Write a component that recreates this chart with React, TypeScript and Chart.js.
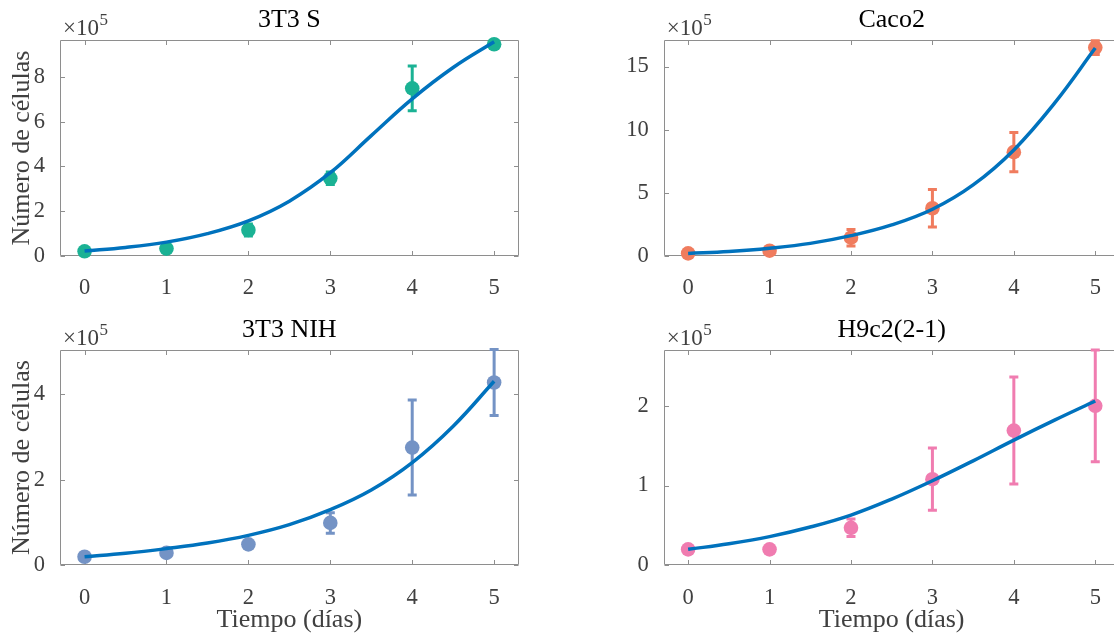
import React, { useEffect, useRef } from "react";
import { Chart, registerables } from "chart.js";

Chart.register(...registerables);

// ---------- data (cell counts in units of 1e5) ----------
const dias = [0, 1, 2, 3, 4, 5];
const diasCurva = [0, 0.5, 1, 1.5, 2, 2.5, 3, 3.5, 4, 4.5, 5];
const xTicks = [0, 1, 2, 3, 4, 5];

const titulos = ["3T3 S", "Caco2", "3T3 NIH", "H9c2(2-1)"];
const etiquetaY = "Número de células";
const etiquetaX = "Tiempo (días)";

const media3T3S = [0.21, 0.33, 1.16, 3.47, 7.49, 9.46];
const error3T3S = [0, 0, 0.27, 0.28, 1.0, 0];
const ajuste3T3S = [0.22, 0.38, 0.62, 1.0, 1.57, 2.45, 3.72, 5.38, 7.02, 8.42, 9.57];
const yTicks3T3S = [0, 2, 4, 6, 8];

const mediaCaco2 = [0.21, 0.42, 1.45, 3.78, 8.22, 16.5];
const errorCaco2 = [0, 0, 0.65, 1.48, 1.56, 0.55];
const ajusteCaco2 = [0.2, 0.36, 0.62, 1.0, 1.61, 2.46, 3.7, 5.63, 8.4, 12.1, 16.46];
const yTicksCaco2 = [0, 5, 10, 15];

const media3T3NIH = [0.2, 0.29, 0.49, 0.99, 2.75, 4.27];
const error3T3NIH = [0, 0, 0, 0.24, 1.11, 0.77];
const ajuste3T3NIH = [0.2, 0.28, 0.39, 0.52, 0.7, 0.95, 1.3, 1.76, 2.4, 3.25, 4.3];
const yTicks3T3NIH = [0, 2, 4];

const mediaH9c2 = [0.2, 0.2, 0.47, 1.08, 1.69, 2.0];
const errorH9c2 = [0, 0, 0.11, 0.39, 0.67, 0.7];
const ajusteH9c2 = [0.2, 0.27, 0.36, 0.48, 0.63, 0.83, 1.06, 1.31, 1.57, 1.82, 2.06];
const yTicksH9c2 = [0, 1, 2];

const yMaximos = [9.65, 17.1, 5.03, 2.7];

// ---------- styles ----------
const FONT = '"Liberation Serif", "Times New Roman", serif';
const COLOR_AJUSTE = "#0072BD";
const COLOR_TEXTO = "#404040";
const COLOR_MARCO = "#8e8e8e";
const coloresPuntos = ["#1BB294", "#F07C5E", "#7493C5", "#F07CB0"];

const marcoPlugin = {
  id: "marco",
  beforeDatasetsDraw(chart: any) {
    const { ctx, chartArea: a, scales } = chart;
    const x = scales.x, y = scales.y;
    const L = Math.round(a.left) + 0.5, R = Math.round(a.right) - 0.5;
    const T = Math.round(a.top) + 0.5, B = Math.round(a.bottom) - 0.5;
    ctx.save();
    ctx.strokeStyle = COLOR_MARCO;
    ctx.lineWidth = 1;
    ctx.beginPath();
    ctx.rect(L, T, R - L, B - T);
    const tl = 4.5;
    x.ticks.forEach((t: any) => {
      const px = Math.round(x.getPixelForValue(t.value)) + 0.5;
      ctx.moveTo(px, B); ctx.lineTo(px, B - tl);
      ctx.moveTo(px, T); ctx.lineTo(px, T + tl);
    });
    y.ticks.forEach((t: any) => {
      const py = Math.round(y.getPixelForValue(t.value)) + 0.5;
      ctx.moveTo(L, py); ctx.lineTo(L + tl, py);
      ctx.moveTo(R, py); ctx.lineTo(R - tl, py);
    });
    ctx.stroke();
    ctx.restore();
  },
};

const barrasPlugin = {
  id: "barras",
  beforeDatasetsDraw(chart: any, _args: any, opts: any) {
    if (!opts || !opts.media) return;
    const { ctx, scales } = chart;
    const x = scales.x, y = scales.y;
    ctx.save();
    ctx.strokeStyle = opts.color;
    ctx.lineWidth = 3;
    ctx.lineCap = "butt";
    opts.dias.forEach((d: number, i: number) => {
      const e = opts.error[i];
      if (!e) return;
      const px = x.getPixelForValue(d);
      const top = y.getPixelForValue(opts.media[i] + e);
      const bot = y.getPixelForValue(opts.media[i] - e);
      ctx.beginPath();
      ctx.moveTo(px, top); ctx.lineTo(px, bot);
      ctx.moveTo(px - 4.5, top); ctx.lineTo(px + 4.5, top);
      ctx.moveTo(px - 4.5, bot); ctx.lineTo(px + 4.5, bot);
      ctx.stroke();
    });
    ctx.restore();
  },
};

const exponentePlugin = {
  id: "exponente",
  afterDraw(chart: any) {
    const { ctx, chartArea: a } = chart;
    ctx.save();
    ctx.fillStyle = COLOR_TEXTO;
    ctx.textBaseline = "alphabetic";
    ctx.textAlign = "left";
    ctx.font = `23px ${FONT}`;
    const base = "×10";
    ctx.fillText(base, a.left + 3, a.top - 5.5);
    const w = ctx.measureText(base).width;
    ctx.font = `17px ${FONT}`;
    ctx.fillText("5", a.left + 3 + w + 0.5, a.top - 15.5);
    ctx.restore();
  },
};

type Panel = {
  titulo: string;
  media: number[];
  error: number[];
  ajuste: number[];
  yTicks: number[];
  yMax: number;
  color: string;
  left: number;
  top: number;
  w: number;
  h: number;
  yWidth: number;
  xHeight: number;
  padRight: number;
  titlePad: { top: number; bottom: number };
  yTitle: boolean;
  xTitle: boolean;
};

const paneles: Panel[] = [
  {
    titulo: titulos[0], media: media3T3S, error: error3T3S, ajuste: ajuste3T3S,
    yTicks: yTicks3T3S, yMax: yMaximos[0], color: coloresPuntos[0],
    left: 0, top: 0, w: 557, h: 300, yWidth: 60, xHeight: 44, padRight: 38.3,
    titlePad: { top: 5, bottom: 3.8 }, yTitle: true, xTitle: false,
  },
  {
    titulo: titulos[1], media: mediaCaco2, error: errorCaco2, ajuste: ajusteCaco2,
    yTicks: yTicksCaco2, yMax: yMaximos[1], color: coloresPuntos[1],
    left: 557, top: 0, w: 570, h: 300, yWidth: 106.7, xHeight: 44, padRight: 5,
    titlePad: { top: 5, bottom: 3.8 }, yTitle: false, xTitle: false,
  },
  {
    titulo: titulos[2], media: media3T3NIH, error: error3T3NIH, ajuste: ajuste3T3NIH,
    yTicks: yTicks3T3NIH, yMax: yMaximos[2], color: coloresPuntos[2],
    left: 0, top: 300, w: 557, h: 334, yWidth: 60, xHeight: 68.7, padRight: 38.3,
    titlePad: { top: 14.9, bottom: 3.9 }, yTitle: true, xTitle: true,
  },
  {
    titulo: titulos[3], media: mediaH9c2, error: errorH9c2, ajuste: ajusteH9c2,
    yTicks: yTicksH9c2, yMax: yMaximos[3], color: coloresPuntos[3],
    left: 557, top: 300, w: 570, h: 334, yWidth: 106.7, xHeight: 68.7, padRight: 5,
    titlePad: { top: 14.9, bottom: 3.9 }, yTitle: false, xTitle: true,
  },
];

function PanelChart({ p }: { p: Panel }) {
  const ref = useRef<HTMLCanvasElement>(null);
  useEffect(() => {
    const canvas = ref.current;
    if (!canvas) return;
    const chart = new Chart(canvas, {
      type: "scatter",
      data: {
        datasets: [
          {
            type: "scatter",
            label: "ajuste",
            data: diasCurva.map((d, i) => ({ x: d, y: p.ajuste[i] })),
            showLine: true,
            borderColor: COLOR_AJUSTE,
            borderWidth: 3.5,
            pointRadius: 0,
            pointHoverRadius: 0,
            tension: 0.4,
            fill: false,
            order: 0,
          } as any,
          {
            type: "scatter",
            label: p.titulo,
            data: dias.map((d, i) => ({ x: d, y: p.media[i] })),
            backgroundColor: p.color,
            borderColor: p.color,
            borderWidth: 0,
            pointRadius: 7.3,
            pointHoverRadius: 7.3,
            clip: false,
            order: 1,
          } as any,
        ],
      },
      options: {
        animation: false,
        responsive: false,
        maintainAspectRatio: false,
        events: [],
        layout: { padding: { left: 0, right: p.padRight, top: 0, bottom: 0 } },
        plugins: {
          legend: { display: false },
          tooltip: { enabled: false },
          title: {
            display: true,
            text: p.titulo,
            fullSize: false,
            color: "#000",
            font: { family: FONT, size: 26, weight: "normal", lineHeight: 1.2 },
            padding: p.titlePad,
          },
          barras: { dias, media: p.media, error: p.error, color: p.color },
        } as any,
        scales: {
          x: {
            type: "linear",
            min: -0.3,
            max: 5.3,
            afterBuildTicks: (s: any) => {
              s.ticks = xTicks.map((v) => ({ value: v }));
            },
            afterFit: (s: any) => {
              s.height = p.xHeight;
            },
            grid: { display: false },
            border: { display: false },
            ticks: {
              color: COLOR_TEXTO,
              font: { family: FONT, size: 22.5 },
              padding: 11,
              maxRotation: 0,
              autoSkip: false,
            },
            title: {
              display: p.xTitle,
              text: etiquetaX,
              color: COLOR_TEXTO,
              font: { family: FONT, size: 26, lineHeight: 1.2 },
              padding: { top: 0, bottom: -1.5 },
            },
          },
          y: {
            type: "linear",
            min: 0,
            max: p.yMax,
            afterBuildTicks: (s: any) => {
              s.ticks = p.yTicks.map((v) => ({ value: v }));
            },
            afterFit: (s: any) => {
              s.width = p.yWidth;
            },
            grid: { display: false },
            border: { display: false },
            ticks: {
              color: COLOR_TEXTO,
              font: { family: FONT, size: 22.5 },
              padding: 7,
              autoSkip: false,
            },
            title: {
              display: p.yTitle,
              text: etiquetaY,
              color: COLOR_TEXTO,
              font: { family: FONT, size: 26, lineHeight: 1.2 },
              padding: { top: 7, bottom: 0 },
            },
          },
        },
      } as any,
      plugins: [marcoPlugin, barrasPlugin, exponentePlugin],
    });
    return () => chart.destroy();
  }, [p]);
  return (
    <canvas
      ref={ref}
      width={p.w}
      height={p.h}
      style={{ position: "absolute", left: p.left, top: p.top, width: p.w, height: p.h }}
    />
  );
}

export default function App() {
  return (
    <div
      style={{
        position: "fixed",
        left: 0,
        top: 0,
        width: 1114,
        height: 634,
        overflow: "hidden",
        background: "#fff",
      }}
    >
      {paneles.map((p) => (
        <PanelChart key={p.titulo} p={p} />
      ))}
    </div>
  );
}
